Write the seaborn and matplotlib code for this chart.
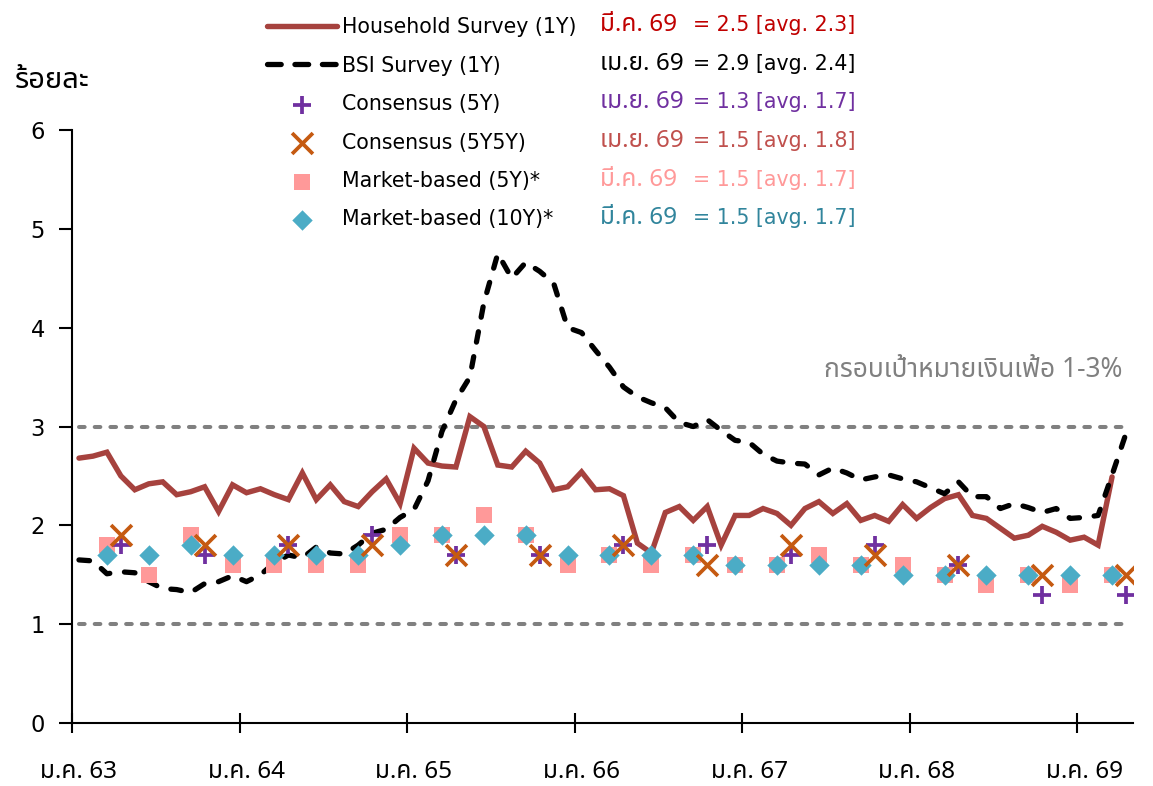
import numpy as np
import pandas as pd
import matplotlib
matplotlib.use("Agg")
import matplotlib.pyplot as plt
import seaborn as sns
from matplotlib import font_manager as fm
from matplotlib.ft2font import FT2Font

# ---------------- data ----------------
x_labels = ["ม.ค. 63", "ม.ค. 64", "ม.ค. 65", "ม.ค. 66", "ม.ค. 67", "ม.ค. 68", "ม.ค. 69"]
y_ticks = [0, 1, 2, 3, 4, 5, 6]

# monthly, Jan 63 .. Mar 69 (month index 0..74)
household = [2.68, 2.70, 2.74, 2.50, 2.36, 2.42, 2.44, 2.31, 2.34, 2.39,
             2.14, 2.41, 2.33, 2.37, 2.31, 2.26, 2.53, 2.26, 2.41, 2.24,
             2.19, 2.34, 2.47, 2.22, 2.78, 2.63, 2.60, 2.59, 3.10, 3.00,
             2.61, 2.59, 2.75, 2.63, 2.36, 2.39, 2.54, 2.36, 2.37, 2.30,
             1.82, 1.72, 2.13, 2.19, 2.05, 2.19, 1.80, 2.10, 2.10, 2.17,
             2.12, 2.00, 2.17, 2.24, 2.12, 2.22, 2.05, 2.10, 2.04, 2.21,
             2.07, 2.18, 2.27, 2.31, 2.10, 2.07, 1.97, 1.87, 1.90, 1.99,
             1.93, 1.85, 1.88, 1.80, 2.49]
# monthly, Jan 63 .. Apr 69 (month index 0..75)
bsi = [1.65, 1.64, 1.51, 1.53, 1.52, 1.43, 1.36, 1.35, 1.32, 1.41,
       1.43, 1.49, 1.43, 1.50, 1.62, 1.70, 1.67, 1.78, 1.72, 1.71,
       1.80, 1.92, 1.96, 2.08, 2.16, 2.45, 2.95, 3.27, 3.50, 4.25,
       4.75, 4.50, 4.66, 4.57, 4.45, 4.00, 3.95, 3.77, 3.60, 3.40,
       3.30, 3.24, 3.19, 3.04, 3.00, 3.07, 2.96, 2.86, 2.84, 2.72,
       2.65, 2.63, 2.62, 2.51, 2.58, 2.53, 2.46, 2.49, 2.51, 2.47,
       2.44, 2.38, 2.32, 2.44, 2.29, 2.29, 2.17, 2.22, 2.18, 2.13,
       2.17, 2.07, 2.08, 2.10, 2.51, 2.93]
# semi-annual (Apr / Oct), month index 3, 9, ..., 75
cons_month = [3, 9, 15, 21, 27, 33, 39, 45, 51, 57, 63, 69, 75]
cons_5y = [1.8, 1.7, 1.8, 1.9, 1.7, 1.7, 1.8, 1.8, 1.7, 1.8, 1.6, 1.3, 1.3]
cons_5y5y = [1.9, 1.8, 1.8, 1.8, 1.7, 1.7, 1.8, 1.6, 1.8, 1.7, 1.6, 1.5, 1.5]
# quarterly (Mar / Jun / Sep / Dec), month index 2, 5, ..., 74
mkt_month = list(range(2, 75, 3))
mkt_5y = [1.8, 1.5, 1.9, 1.6, 1.6, 1.6, 1.6, 1.9, 1.9, 2.1, 1.9, 1.6, 1.7,
          1.6, 1.7, 1.6, 1.6, 1.7, 1.6, 1.6, 1.5, 1.4, 1.5, 1.4, 1.5]
mkt_10y = [1.7, 1.7, 1.8, 1.7, 1.7, 1.7, 1.7, 1.8, 1.9, 1.9, 1.9, 1.7, 1.7,
           1.7, 1.7, 1.6, 1.6, 1.6, 1.6, 1.5, 1.5, 1.5, 1.5, 1.5, 1.5]
target_band = [1, 3]

series_names = ["Household Survey (1Y)", "BSI Survey (1Y)", "Consensus (5Y)",
                "Consensus (5Y5Y)", "Market-based (5Y)*", "Market-based (10Y)*"]
latest_labels = ["มี.ค. 69", "เม.ย. 69", "เม.ย. 69", "เม.ย. 69", "มี.ค. 69", "มี.ค. 69"]
latest_values = ["= 2.5 [avg. 2.3]", "= 2.9 [avg. 2.4]", "= 1.3 [avg. 1.7]",
                 "= 1.5 [avg. 1.8]", "= 1.5 [avg. 1.7]", "= 1.5 [avg. 1.7]"]
value_colors = ["#C00000", "#000000", "#7030A0", "#C0504D", "#FF9999", "#31859C"]

# ---------------- fonts ----------------
def thai_fonts():
    found = []
    for f in fm.fontManager.ttflist:
        try:
            cm = FT2Font(f.fname).get_charmap()
        except Exception:
            continue
        if all(c in cm for c in (0x0E21, 0x0E04, 0x0E22, 0x0E49)):
            if f.name not in found:
                found.append(f.name)
    return found

sns.set_style("ticks")
tf = thai_fonts()
pref = ["Tahoma", "Noto Sans Thai", "Noto Sans Thai UI", "Loma", "Garuda", "Sarabun", "Kinnari"]
thai = None
for p in pref:
    if p in tf:
        thai = p
        break
if thai is None and tf:
    thai = tf[0]
families = ["DejaVu Sans"] + ([thai] if thai else [])
thai_first = ([thai] if thai else []) + ["DejaVu Sans"]
plt.rcParams["font.family"] = families
for k in ["text.color", "axes.labelcolor", "xtick.color", "ytick.color", "axes.edgecolor"]:
    plt.rcParams[k] = "black"
FS = 14.8
FS_TH = 17.5

# ---------------- figure ----------------
W, H = 1153, 786
fig = plt.figure(figsize=(W / 100, H / 100), dpi=100)
ax = fig.add_axes([72 / W, 1 - 723 / H, (1133 - 72) / W, (723 - 130) / H])

hh_df = pd.DataFrame({"m": np.arange(len(household)), "v": household})
bsi_df = pd.DataFrame({"m": np.arange(len(bsi)), "v": bsi})
cons_df = pd.DataFrame({"m": cons_month, "c5": cons_5y, "c55": cons_5y5y})
mkt_df = pd.DataFrame({"m": mkt_month, "m5": mkt_5y, "m10": mkt_10y})

# target band
for yv in target_band:
    ax.hlines(yv, 0, 74.7, colors="#808080", linewidth=2.9,
              linestyles=(0, (1.4, 2.5)), capstyle="round", zorder=1)

BSI_DASH = (0, (2.0, 2.8))
sns.lineplot(data=bsi_df, x="m", y="v", ax=ax, color="black", linewidth=3.8,
             linestyle=BSI_DASH, dash_capstyle="round",
             label=series_names[1], zorder=3)
sns.lineplot(data=hh_df, x="m", y="v", ax=ax, color="#A6423E", linewidth=3.9,
             label=series_names[0], zorder=2, solid_joinstyle="miter")

sns.scatterplot(data=mkt_df, x="m", y="m5", ax=ax, marker="s", s=130,
                color="#FF9999", linewidth=0, label=series_names[4], zorder=4)
sns.scatterplot(data=mkt_df, x="m", y="m10", ax=ax, marker="D", s=108,
                color="#4BACC6", linewidth=0, label=series_names[5], zorder=5)
sns.scatterplot(data=cons_df, x="m", y="c5", ax=ax, marker="+", s=165,
                color="#7030A0", linewidth=2.7, label=series_names[2], zorder=6)
sns.scatterplot(data=cons_df, x="m", y="c55", ax=ax, marker="x", s=225,
                color="#C55A11", linewidth=2.7, label=series_names[3], zorder=7)

# axes styling
ax.set_xlim(-0.5, 75.5)
ax.set_ylim(0, 6)
ax.set_xlabel("")
ax.set_ylabel("")
ax.set_yticks(y_ticks)
ax.set_yticklabels([str(t) for t in y_ticks], fontsize=FS + 1.5)
ax.tick_params(axis="y", direction="out", length=9.5, width=1.5, pad=10, colors="black")
ax.set_xticks(np.arange(-0.5, 76, 12))
ax.set_xticklabels([])
ax.set_xticks(np.arange(0, 76, 12), minor=True)
ax.set_xticklabels(x_labels, minor=True, fontsize=FS_TH, family=thai_first)
ax.tick_params(axis="x", which="major", direction="inout", length=15, width=1.5, colors="black")
ax.tick_params(axis="x", which="minor", length=0, pad=27, colors="black")
for s in ["top", "right"]:
    ax.spines[s].set_visible(False)
for s in ["left", "bottom"]:
    ax.spines[s].set_linewidth(1.5)
    ax.spines[s].set_color("black")
ax.grid(False)

# target text
ax.text(74.75, 3.57, "กรอบเป้าหมายเงินเฟ้อ 1-3%", ha="right", va="center",
        fontsize=19, color="#808080", fontweight="bold", family=thai_first)

# y unit label
fig.text(15 / W, 1 - 81 / H, "ร้อยละ", ha="left", va="center", fontsize=21,
         fontweight="bold", family=thai_first)

# legend
h, l = ax.get_legend_handles_labels()
order = [l.index(n) for n in series_names]
if ax.get_legend():
    ax.get_legend().remove()
leg = fig.legend([h[i] for i in order], [l[i] for i in order], loc="upper left",
                 bbox_to_anchor=(267 / W, 1 - 17 / H), frameon=False, fontsize=FS,
                 handlelength=3.4, handletextpad=0.25, labelspacing=0.9,
                 borderpad=0, borderaxespad=0, labelcolor="black")
leg_lines = leg.get_lines()
if len(leg_lines) > 1:
    leg_lines[1].set_linestyle((0, (2.6, 2.6)))
    leg_lines[1].set_dash_capstyle("round")

row_y = [25, 64, 102, 141, 180, 218]
for yy, lab, val, col in zip(row_y, latest_labels, latest_values, value_colors):
    fig.text(600 / W, 1 - yy / H, lab, color=col, fontsize=FS_TH, va="center",
             ha="left", family=thai_first)
    fig.text(693 / W, 1 - yy / H, val, color=col, fontsize=FS, va="center", ha="left")

fig.savefig("out.png", dpi=100)
